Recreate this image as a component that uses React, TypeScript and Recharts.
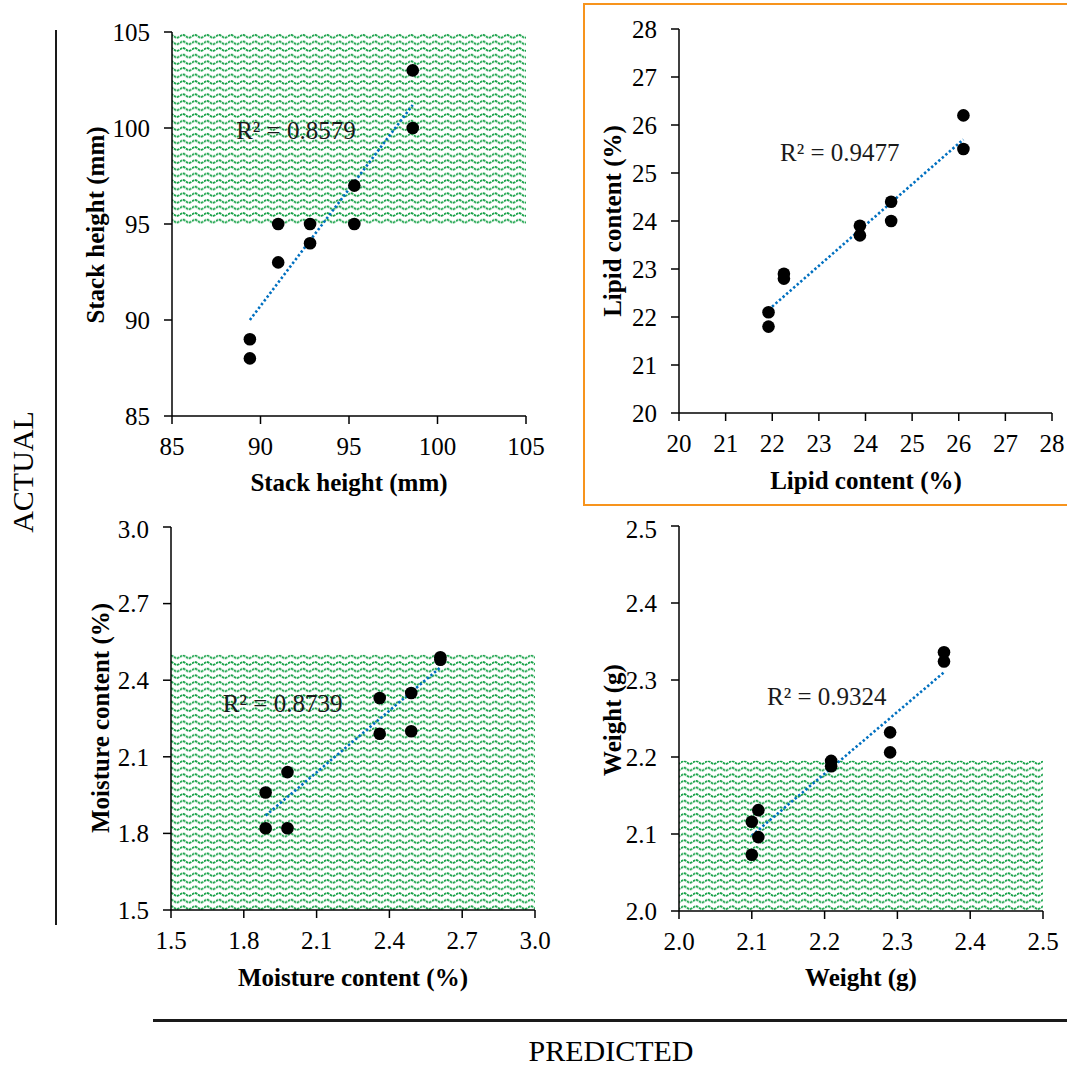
import React from 'react';
import {
  ScatterChart,
  Scatter,
  XAxis,
  YAxis,
  ReferenceArea,
  ReferenceLine,
  ReferenceDot
} from 'recharts';

const FONT = "'Liberation Serif', 'Times New Roman', serif";

// Stack height (mm)
const stackPredicted = [89.4, 89.4, 91.0, 91.0, 92.8, 92.8, 95.3, 95.3, 98.6, 98.6];
const stackActual = [88, 89, 93, 95, 94, 95, 95, 97, 100, 103];
const stackTrendX = [89.4, 98.6];
const stackTrendY = [90.0, 101.2];
const stackTicks = [85, 90, 95, 100, 105];

// Lipid content (%)
const lipidPredicted = [21.92, 21.92, 22.25, 22.25, 23.88, 23.88, 24.55, 24.55, 26.1, 26.1];
const lipidActual = [21.8, 22.1, 22.8, 22.9, 23.7, 23.9, 24.0, 24.4, 25.5, 26.2];
const lipidTrendX = [21.92, 26.1];
const lipidTrendY = [22.15, 25.7];
const lipidTicks = [20, 21, 22, 23, 24, 25, 26, 27, 28];

// Moisture content (%)
const moistPredicted = [1.89, 1.89, 1.98, 1.98, 2.36, 2.36, 2.49, 2.49, 2.61, 2.61];
const moistActual = [1.82, 1.96, 1.82, 2.04, 2.19, 2.33, 2.2, 2.35, 2.48, 2.49];
const moistTrendX = [1.89, 2.61];
const moistTrendY = [1.87, 2.45];
const moistTicks = [1.5, 1.8, 2.1, 2.4, 2.7, 3.0];

// Weight (g)
const weightPredicted = [2.1, 2.1, 2.109, 2.109, 2.209, 2.209, 2.29, 2.29, 2.364, 2.364];
const weightActual = [2.073, 2.116, 2.096, 2.131, 2.188, 2.195, 2.206, 2.232, 2.324, 2.336];
const weightTrendX = [2.1, 2.364];
const weightTrendY = [2.098, 2.31];
const weightTicks = [2.0, 2.1, 2.2, 2.3, 2.4, 2.5];

interface Hatch {
  x1: number;
  x2: number;
  y1: number;
  y2: number;
}

interface PanelProps {
  id: string;
  left: number;
  top: number;
  width: number;
  height: number;
  plot: { x0: number; x1: number; y0: number; y1: number };
  ticks: number[];
  digits: number;
  predicted: number[];
  actual: number[];
  trendX: number[];
  trendY: number[];
  r2: { x: number; y: number; text: string };
  hatch: Hatch | null;
  title: string;
  xTitlePos: [number, number];
  yTitlePos: [number, number];
}

function Title({ px, py, text, vertical }: { px: number; py: number; text: string; vertical?: boolean }) {
  return (
    <text
      x={px}
      y={py}
      textAnchor="middle"
      dominantBaseline="central"
      transform={vertical ? `rotate(-90 ${px} ${py})` : undefined}
      fontFamily={FONT}
      fontWeight="bold"
      fontSize={25}
      fill="#000"
    >
      {text}
    </text>
  );
}

const dot = (props: any) => <circle cx={props.cx} cy={props.cy} r={6.3} fill="#000" />;

function Panel(p: PanelProps) {
  const data = p.predicted.map((x, i) => ({ x, y: p.actual[i] }));
  const domain: [number, number] = [p.ticks[0], p.ticks[p.ticks.length - 1]];
  const fmt = (v: number) => v.toFixed(p.digits);
  const tickStyle = { fill: '#000', fontSize: 25, fontFamily: FONT };
  const line = { stroke: '#000', strokeWidth: 1.5 };
  const margin = { top: p.plot.y0 - p.top, right: p.left + p.width - p.plot.x1, bottom: 0, left: 0 };

  return (
    <div style={{ position: 'absolute', left: p.left, top: p.top }}>
      <ScatterChart width={p.width} height={p.height} margin={margin} style={{ fontFamily: FONT }}>
        <defs>
          <pattern id={`wave-${p.id}`} width={12} height={6.6} patternUnits="userSpaceOnUse">
            <rect width={12} height={6.6} fill="#fff" />
            <path
              d="M0 3.3 Q3 0.5 6 3.3 T12 3.3"
              fill="none"
              stroke="#14a045"
              strokeWidth={1.7}
              strokeDasharray="2.6 0.7"
            />
          </pattern>
        </defs>
        <XAxis
          type="number"
          dataKey="x"
          domain={domain}
          ticks={p.ticks}
          allowDataOverflow
          tickFormatter={fmt}
          tick={tickStyle}
          tickSize={8}
          tickMargin={13}
          axisLine={line}
          tickLine={line}
          height={p.top + p.height - p.plot.y1}
          label={<Title px={p.xTitlePos[0] - p.left} py={p.xTitlePos[1] - p.top} text={p.title} />}
        />
        <YAxis
          type="number"
          dataKey="y"
          domain={domain}
          ticks={p.ticks}
          allowDataOverflow
          tickFormatter={fmt}
          tick={tickStyle}
          tickSize={8}
          tickMargin={14}
          axisLine={line}
          tickLine={line}
          width={p.plot.x0 - p.left}
          label={<Title px={p.yTitlePos[0] - p.left} py={p.yTitlePos[1] - p.top} text={p.title} vertical />}
        />
        {p.hatch && (
          <ReferenceArea
            x1={p.hatch.x1}
            x2={p.hatch.x2}
            y1={p.hatch.y1}
            y2={p.hatch.y2}
            fill={`url(#wave-${p.id})`}
            fillOpacity={1}
            stroke="none"
          />
        )}
        <Scatter data={data} shape={dot} isAnimationActive={false} />
        <ReferenceLine
          segment={[
            { x: p.trendX[0], y: p.trendY[0] },
            { x: p.trendX[1], y: p.trendY[1] }
          ]}
          stroke="#0070c0"
          strokeWidth={2.6}
          strokeDasharray="2.4 2.3"
        />
        <ReferenceDot
          x={p.r2.x}
          y={p.r2.y}
          r={0}
          fill="none"
          stroke="none"
          label={{ value: p.r2.text, position: 'center', fill: '#1a1a1a', fontSize: 25, fontFamily: FONT }}
        />
      </ScatterChart>
    </div>
  );
}

export default function App() {
  return (
    <div
      style={{
        position: 'absolute',
        left: 0,
        top: 0,
        width: 1067,
        height: 1066,
        overflow: 'hidden',
        background: '#fff',
        fontFamily: FONT
      }}
    >
      <style>{`.recharts-wrapper text, .recharts-wrapper tspan { font-family: 'Liberation Serif', 'Times New Roman', serif !important; }`}</style>

      {/* highlight frame round the lipid panel */}
      <div
        style={{
          position: 'absolute',
          left: 583,
          top: 3,
          width: 520,
          height: 503,
          boxSizing: 'border-box',
          border: '2px solid #f7941d'
        }}
      />

      <Panel
        id="stack"
        left={60}
        top={0}
        width={500}
        height={510}
        plot={{ x0: 172, x1: 526, y0: 32, y1: 416 }}
        ticks={stackTicks}
        digits={0}
        predicted={stackPredicted}
        actual={stackActual}
        trendX={stackTrendX}
        trendY={stackTrendY}
        r2={{ x: 92.0, y: 99.9, text: 'R² = 0.8579' }}
        hatch={{ x1: 85, x2: 105, y1: 95, y2: 105 }}
        title="Stack height (mm)"
        xTitlePos={[349, 482]}
        yTitlePos={[95, 225]}
      />
      <Panel
        id="lipid"
        left={585}
        top={6}
        width={482}
        height={497}
        plot={{ x0: 679, x1: 1052, y0: 29, y1: 413 }}
        ticks={lipidTicks}
        digits={0}
        predicted={lipidPredicted}
        actual={lipidActual}
        trendX={lipidTrendX}
        trendY={lipidTrendY}
        r2={{ x: 23.45, y: 25.44, text: 'R² = 0.9477' }}
        hatch={null}
        title="Lipid content (%)"
        xTitlePos={[866, 480]}
        yTitlePos={[612, 221]}
      />
      <Panel
        id="moist"
        left={60}
        top={515}
        width={500}
        height={495}
        plot={{ x0: 171, x1: 535, y0: 527, y1: 910 }}
        ticks={moistTicks}
        digits={1}
        predicted={moistPredicted}
        actual={moistActual}
        trendX={moistTrendX}
        trendY={moistTrendY}
        r2={{ x: 1.96, y: 2.31, text: 'R² = 0.8739' }}
        hatch={{ x1: 1.5, x2: 3.0, y1: 1.5, y2: 2.5 }}
        title="Moisture content (%)"
        xTitlePos={[353, 977]}
        yTitlePos={[100, 718]}
      />
      <Panel
        id="weight"
        left={585}
        top={515}
        width={482}
        height={495}
        plot={{ x0: 679, x1: 1043, y0: 526, y1: 911 }}
        ticks={weightTicks}
        digits={1}
        predicted={weightPredicted}
        actual={weightActual}
        trendX={weightTrendX}
        trendY={weightTrendY}
        r2={{ x: 2.203, y: 2.279, text: 'R² = 0.9324' }}
        hatch={{ x1: 2.0, x2: 2.5, y1: 2.0, y2: 2.195 }}
        title="Weight (g)"
        xTitlePos={[861, 977]}
        yTitlePos={[612, 720]}
      />

      {/* shared axis captions */}
      <div style={{ position: 'absolute', left: 55, top: 30, width: 2, height: 895, background: '#1a1a1a' }} />
      <div
        style={{
          position: 'absolute',
          left: 23,
          top: 472,
          transform: 'translate(-50%, -50%) rotate(-90deg)',
          fontSize: 30,
          lineHeight: 1,
          whiteSpace: 'nowrap',
          color: '#000'
        }}
      >
        ACTUAL
      </div>
      <div style={{ position: 'absolute', left: 153, top: 1019, width: 914, height: 2.5, background: '#1a1a1a' }} />
      <div
        style={{
          position: 'absolute',
          left: 611,
          top: 1051,
          transform: 'translate(-50%, -50%)',
          fontSize: 30,
          lineHeight: 1,
          whiteSpace: 'nowrap',
          color: '#000'
        }}
      >
        PREDICTED
      </div>
    </div>
  );
}
